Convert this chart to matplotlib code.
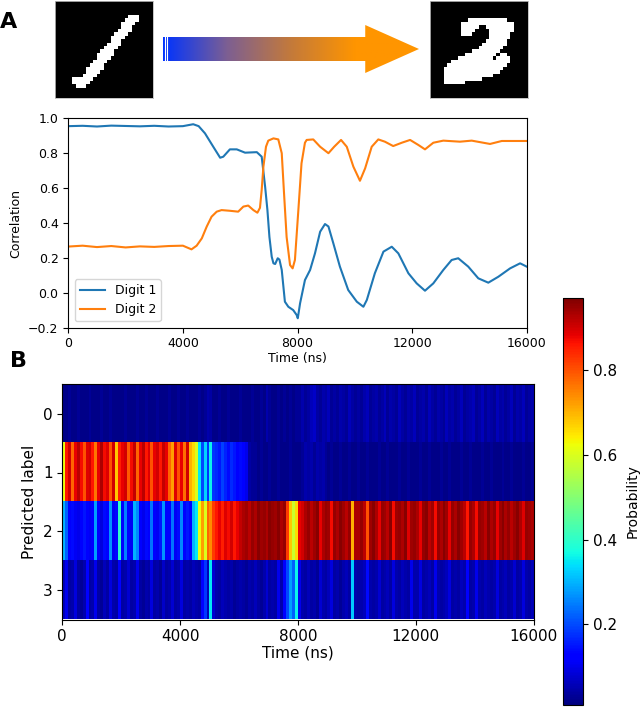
import numpy as np
import matplotlib
matplotlib.use('Agg')
import matplotlib.pyplot as plt
from matplotlib.colors import LinearSegmentedColormap, Normalize
from matplotlib.patches import Polygon

# ---- data ----

# correlation with the two stored digits (time in ns)
t_digit1 = [0, 500, 1000, 1500, 2000, 2500, 3000, 3500, 4000, 4360, 4550, 4770,
            5060, 5300, 5410, 5640, 5880, 6170, 6580, 6750, 6870, 6950, 7020,
            7100, 7160, 7220, 7310, 7370, 7450, 7560, 7680, 7850, 7970, 8010,
            8090, 8260, 8440, 8610, 8790, 8960, 9080, 9250, 9480, 9770, 10070,
            10300, 10420, 10700, 11000, 11290, 11520, 11870, 12160, 12450,
            12740, 13090, 13380, 13610, 13960, 14310, 14660, 15010, 15420,
            15770, 16000]
corr_digit1 = [0.955, 0.957, 0.953, 0.958, 0.956, 0.954, 0.957, 0.953, 0.955,
               0.966, 0.955, 0.914, 0.837, 0.774, 0.78, 0.822, 0.822, 0.803,
               0.806, 0.78, 0.608, 0.474, 0.32, 0.207, 0.169, 0.165, 0.198,
               0.19, 0.131, -0.051, -0.08, -0.099, -0.127, -0.146, -0.06,
               0.073, 0.131, 0.226, 0.35, 0.394, 0.38, 0.284, 0.15, 0.016,
               -0.051, -0.08, -0.041, 0.112, 0.236, 0.264, 0.226, 0.112, 0.054,
               0.012, 0.054, 0.131, 0.188, 0.198, 0.15, 0.083, 0.058, 0.092,
               0.14, 0.169, 0.15]

t_digit2 = [0, 500, 1000, 1500, 2000, 2500, 3000, 3500, 4000, 4300, 4480, 4660,
            4830, 5000, 5180, 5350, 5640, 5930, 6110, 6280, 6460, 6600, 6690,
            6750, 6810, 6900, 6980, 7160, 7330, 7450, 7530, 7620, 7740, 7830,
            7910, 8030, 8140, 8260, 8320, 8550, 8790, 9080, 9280, 9520, 9720,
            9950, 10180, 10360, 10590, 10820, 11050, 11340, 11640, 11930,
            12220, 12450, 12740, 13090, 13670, 14080, 14720, 15130, 16000]
corr_digit2 = [0.265, 0.27, 0.262, 0.268, 0.26, 0.266, 0.263, 0.268, 0.27,
               0.249, 0.27, 0.312, 0.379, 0.436, 0.465, 0.474, 0.47, 0.465,
               0.494, 0.5, 0.474, 0.459, 0.487, 0.589, 0.723, 0.837, 0.872,
               0.885, 0.879, 0.8, 0.57, 0.32, 0.159, 0.14, 0.188, 0.474, 0.742,
               0.86, 0.876, 0.879, 0.837, 0.8, 0.837, 0.876, 0.837, 0.723,
               0.642, 0.713, 0.837, 0.879, 0.866, 0.841, 0.86, 0.876, 0.847,
               0.822, 0.86, 0.872, 0.866, 0.872, 0.853, 0.87, 0.87]

# predicted-label probability, one value per 100 ns bin (160 bins)
bin_ns = 100
prob_label0 = [
    0.02, 0.02, 0.03, 0.02, 0.02, 0.03, 0.02, 0.02, 0.02, 0.03, 0.02, 0.02, 0.02, 0.03, 0.02, 0.02, 0.03, 0.02, 0.02, 0.02,
    0.02, 0.03, 0.02, 0.02, 0.02, 0.03, 0.02, 0.02, 0.03, 0.02, 0.02, 0.02, 0.03, 0.02, 0.02, 0.02, 0.03, 0.02, 0.02, 0.03,
    0.02, 0.02, 0.03, 0.02, 0.02, 0.02, 0.03, 0.02, 0.03, 0.05, 0.04, 0.02, 0.02, 0.03, 0.02, 0.02, 0.03, 0.02, 0.02, 0.02,
    0.03, 0.02, 0.02, 0.02, 0.03, 0.02, 0.02, 0.03, 0.02, 0.05, 0.03, 0.02, 0.02, 0.03, 0.02, 0.03, 0.02, 0.03, 0.02, 0.03,
    0.03, 0.05, 0.03, 0.04, 0.06, 0.07, 0.04, 0.03, 0.05, 0.04, 0.06, 0.03, 0.04, 0.03, 0.05, 0.04, 0.03, 0.06, 0.04, 0.03,
    0.04, 0.03, 0.05, 0.06, 0.03, 0.04, 0.05, 0.03, 0.04, 0.06, 0.03, 0.05, 0.04, 0.03, 0.06, 0.04, 0.03, 0.05, 0.04, 0.06,
    0.03, 0.04, 0.05, 0.03, 0.06, 0.04, 0.03, 0.05, 0.04, 0.03, 0.06, 0.04, 0.05, 0.03, 0.04, 0.06, 0.03, 0.04, 0.05, 0.06,
    0.03, 0.04, 0.06, 0.03, 0.05, 0.04, 0.03, 0.06, 0.04, 0.05, 0.03, 0.04, 0.06, 0.03, 0.05, 0.04, 0.06, 0.03, 0.04, 0.05]
prob_label1 = [
    0.62, 0.86, 0.90, 0.78, 0.88, 0.92, 0.87, 0.80, 0.89, 0.90, 0.86, 0.76, 0.88, 0.93, 0.87, 0.89, 0.80, 0.90, 0.68, 0.85,
    0.88, 0.90, 0.79, 0.87, 0.91, 0.78, 0.88, 0.92, 0.86, 0.89, 0.80, 0.88, 0.90, 0.86, 0.91, 0.88, 0.78, 0.72, 0.89, 0.80,
    0.88, 0.77, 0.90, 0.70, 0.66, 0.60, 0.35, 0.20, 0.33, 0.18, 0.36, 0.18, 0.17, 0.15, 0.19, 0.16, 0.14, 0.17, 0.15, 0.13,
    0.14, 0.12, 0.10, 0.04, 0.03, 0.03, 0.02, 0.03, 0.02, 0.02, 0.03, 0.02, 0.02, 0.03, 0.02, 0.02, 0.02, 0.03, 0.02, 0.02,
    0.02, 0.03, 0.05, 0.04, 0.05, 0.03, 0.05, 0.04, 0.05, 0.03, 0.02, 0.03, 0.02, 0.02, 0.03, 0.02, 0.02, 0.03, 0.02, 0.02,
    0.03, 0.02, 0.02, 0.03, 0.02, 0.02, 0.02, 0.03, 0.02, 0.02, 0.03, 0.02, 0.02, 0.02, 0.03, 0.02, 0.02, 0.03, 0.02, 0.02,
    0.02, 0.03, 0.02, 0.02, 0.03, 0.02, 0.02, 0.02, 0.03, 0.02, 0.02, 0.03, 0.02, 0.02, 0.02, 0.03, 0.02, 0.02, 0.03, 0.02,
    0.02, 0.02, 0.03, 0.02, 0.02, 0.03, 0.02, 0.02, 0.02, 0.03, 0.02, 0.02, 0.03, 0.02, 0.02, 0.02, 0.03, 0.02, 0.02, 0.03]
prob_label2 = [
    0.30, 0.22, 0.12, 0.14, 0.11, 0.10, 0.13, 0.15, 0.12, 0.11, 0.13, 0.28, 0.12, 0.09, 0.14, 0.12, 0.27, 0.11, 0.14, 0.40,
    0.12, 0.25, 0.13, 0.11, 0.30, 0.26, 0.12, 0.10, 0.14, 0.12, 0.24, 0.13, 0.11, 0.15, 0.27, 0.12, 0.13, 0.24, 0.11, 0.14,
    0.26, 0.12, 0.15, 0.13, 0.30, 0.35, 0.62, 0.72, 0.60, 0.78, 0.74, 0.82, 0.86, 0.88, 0.85, 0.89, 0.87, 0.90, 0.86, 0.88,
    0.91, 0.93, 0.94, 0.92, 0.95, 0.93, 0.96, 0.94, 0.95, 0.93, 0.96, 0.95, 0.94, 0.96, 0.93, 0.95, 0.82, 0.68, 0.58, 0.66,
    0.88, 0.90, 0.93, 0.95, 0.92, 0.94, 0.96, 0.88, 0.93, 0.95, 0.94, 0.87, 0.95, 0.93, 0.96, 0.94, 0.92, 0.95, 0.70, 0.93,
    0.93, 0.95, 0.92, 0.80, 0.94, 0.96, 0.93, 0.88, 0.95, 0.94, 0.92, 0.96, 0.87, 0.94, 0.95, 0.93, 0.96, 0.89, 0.94, 0.95,
    0.93, 0.88, 0.95, 0.96, 0.92, 0.94, 0.87, 0.95, 0.93, 0.96, 0.94, 0.88, 0.95, 0.93, 0.96, 0.94, 0.92, 0.86, 0.95, 0.93,
    0.87, 0.95, 0.94, 0.92, 0.96, 0.93, 0.95, 0.88, 0.94, 0.96, 0.93, 0.95, 0.92, 0.94, 0.96, 0.93, 0.89, 0.95, 0.94, 0.93]
prob_label3 = [
    0.06, 0.10, 0.04, 0.05, 0.09, 0.04, 0.03, 0.05, 0.12, 0.04, 0.05, 0.10, 0.04, 0.03, 0.06, 0.04, 0.09, 0.05, 0.04, 0.13,
    0.04, 0.05, 0.08, 0.04, 0.05, 0.10, 0.04, 0.03, 0.05, 0.04, 0.09, 0.04, 0.05, 0.03, 0.07, 0.04, 0.05, 0.08, 0.04, 0.05,
    0.09, 0.04, 0.05, 0.04, 0.06, 0.05, 0.04, 0.12, 0.18, 0.06, 0.35, 0.08, 0.05, 0.04, 0.06, 0.05, 0.04, 0.05, 0.03, 0.04,
    0.05, 0.04, 0.03, 0.05, 0.04, 0.06, 0.04, 0.03, 0.05, 0.08, 0.04, 0.05, 0.04, 0.10, 0.05, 0.12, 0.20, 0.28, 0.22, 0.36,
    0.10, 0.05, 0.04, 0.06, 0.04, 0.05, 0.03, 0.08, 0.05, 0.04, 0.06, 0.09, 0.04, 0.05, 0.03, 0.05, 0.06, 0.04, 0.32, 0.05,
    0.04, 0.05, 0.06, 0.14, 0.05, 0.04, 0.05, 0.08, 0.04, 0.05, 0.06, 0.04, 0.09, 0.05, 0.04, 0.06, 0.05, 0.04, 0.10, 0.05,
    0.05, 0.09, 0.04, 0.05, 0.06, 0.04, 0.10, 0.05, 0.04, 0.05, 0.06, 0.09, 0.04, 0.05, 0.04, 0.06, 0.05, 0.12, 0.04, 0.05,
    0.10, 0.05, 0.04, 0.06, 0.05, 0.04, 0.05, 0.09, 0.04, 0.05, 0.06, 0.04, 0.05, 0.08, 0.04, 0.05, 0.09, 0.05, 0.04, 0.06]

# 28x28 input digits ('#' = white pixel)
digit_one = [
    "", "", "", "",
    ".....................###",
    "....................####",
    "...................####",
    "...................###",
    "..................####",
    ".................####",
    "................####",
    "................###",
    "...............####",
    "..............####",
    ".............####",
    "............#####",
    "............####",
    "...........####",
    "..........####",
    ".........#####",
    ".........####",
    "........####",
    ".....######",
    ".....#####",
    "......###",
    "", "", ""]
digit_two = [
    "", "", "", "", "",
    "...........###########",
    ".........###############",
    ".........#####..########",
    ".........####....#######",
    ".........###.....######",
    ".................######",
    "................######",
    "...............#######",
    "..............#######",
    "............########",
    "..........#########.##",
    "........##########.####",
    "......#################",
    ".....#################",
    "....#################",
    "....################",
    "....##############",
    "....###########",
    "....######",
    "", "", "", ""]

# ---- layout helpers (pixel boxes, top-left origin) ----
W, H = 640, 709


def box(x0, y0, x1, y1):
    return [x0 / W, 1 - y1 / H, (x1 - x0) / W, (y1 - y0) / H]


def to_bitmap(rows):
    return np.array([[1 if ch == '#' else 0 for ch in r.ljust(28, '.')[:28]] for r in rows])


fig = plt.figure(figsize=(W / 100, H / 100), dpi=100)

# ---- panel A: digits and arrow ----
for rows, b in [(digit_one, (55, 1, 153, 98)), (digit_two, (430, 1, 528, 98))]:
    ax_d = fig.add_axes(box(*b))
    ax_d.imshow(to_bitmap(rows), cmap='gray', interpolation='nearest', aspect='auto')
    ax_d.set_xticks([])
    ax_d.set_yticks([])
    for s in ax_d.spines.values():
        s.set_color('#bbbbbb')
        s.set_linewidth(0.6)

ax_arrow = fig.add_axes(box(163, 25, 419, 73))
ax_arrow.set_xlim(0, 1)
ax_arrow.set_ylim(0, 1)
ax_arrow.axis('off')
head_x = 0.79
arrow_shape = Polygon([(0, 0.25), (head_x, 0.25), (head_x, 0.0), (1.0, 0.5),
                       (head_x, 1.0), (head_x, 0.75), (0, 0.75)], closed=True,
                      facecolor='none', edgecolor='none')
ax_arrow.add_patch(arrow_shape)
arrow_cmap = LinearSegmentedColormap.from_list('arrow', ['#0033ff', '#7d5f92', '#c47a3a', '#ff9500', '#ff9500'])
grad = ax_arrow.imshow(np.linspace(0, 1, 256).reshape(1, -1), cmap=arrow_cmap,
                       extent=[0, 1, 0, 1], aspect='auto')
grad.set_clip_path(arrow_shape)
for xs in [0.008, 0.016]:
    ax_arrow.plot([xs, xs], [0.25, 0.75], color='white', lw=0.8)

fig.text(0.0 / W, 1 - 22 / H, 'A', fontsize=16, fontweight='bold', va='center', ha='left')

# ---- correlation traces ----
ax_line = fig.add_axes(box(68.3, 118.3, 526.7, 327.7))
ax_line.plot(t_digit1, corr_digit1, color='#1f77b4', lw=1.5, label='Digit 1')
ax_line.plot(t_digit2, corr_digit2, color='#ff7f0e', lw=1.5, label='Digit 2')
ax_line.set_xlim(0, 16000)
ax_line.set_ylim(-0.2, 1.0)
ax_line.set_xticks([0, 4000, 8000, 12000, 16000])
ax_line.set_yticks(np.arange(-0.2, 1.01, 0.2))
ax_line.tick_params(labelsize=9)
ax_line.set_xlabel('Time (ns)', fontsize=9, labelpad=1)
ax_line.set_ylabel('Correlation', fontsize=9)
ax_line.legend(loc='lower left', fontsize=9)

# ---- panel B: predicted label heatmap ----
fig.text(10 / W, 1 - 361 / H, 'B', fontsize=16, fontweight='bold', va='center', ha='left')

probs = np.array([prob_label0, prob_label1, prob_label2, prob_label3])
n_bins = probs.shape[1]
ax_heat = fig.add_axes(box(62.3, 384.3, 533.5, 619.5))
im = ax_heat.imshow(probs, cmap='jet', aspect='auto', interpolation='nearest',
                    norm=Normalize(vmin=0.01, vmax=0.97),
                    extent=[0, n_bins * bin_ns, 3.5, -0.5])
ax_heat.set_xlim(0, 16000)
ax_heat.set_xticks([0, 4000, 8000, 12000, 16000])
ax_heat.set_yticks([0, 1, 2, 3])
ax_heat.tick_params(labelsize=11)
ax_heat.set_xlabel('Time (ns)', fontsize=11, labelpad=1)
ax_heat.set_ylabel('Predicted label', fontsize=11)

cax = fig.add_axes(box(563.3, 298, 583.3, 705))
cb = fig.colorbar(im, cax=cax, ticks=[0.2, 0.4, 0.6, 0.8])
cb.ax.tick_params(labelsize=11)
cb.set_label('Probability', fontsize=10, labelpad=6)

fig.savefig('out.png', dpi=100)
